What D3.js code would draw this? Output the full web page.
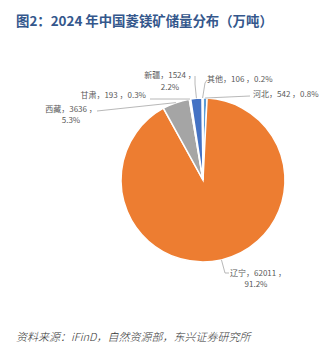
<!DOCTYPE html>
<html><head><meta charset="utf-8">
<script src="https://cdn.jsdelivr.net/npm/d3@7"></script>
<style>
html,body{margin:0;padding:0;background:#fff;}
svg{display:block;}
</style></head>
<body>
<script>
const categories = ["河北","辽宁","西藏","甘肃","新疆","其他"];
const values = [542, 62011, 3636, 193, 1524, 106];
const colors = ["#5B9BD5","#ED7D31","#A5A5A5","#FFC000","#4472C4","#70AD47"];
const titleText = "图2：2024 年中国菱镁矿储量分布（万吨）";
const sourceText = "资料来源：iFinD，自然资源部，东兴证券研究所";

const W = 332, H = 353;
const cx = 203, cy = 180, R = 82;

const svg = d3.select("body").append("svg").attr("width", W).attr("height", H);

svg.append("text").attr("x", 16).attr("y", 26)
  .attr("font-family", "'Noto Sans CJK SC', 'Noto Sans', sans-serif")
  .attr("font-size", 13.4).attr("font-weight", "bold").attr("fill", "#34578C")
  .text(titleText);

svg.append("text").attr("x", 16).attr("y", 341)
  .attr("font-family", "'Noto Sans CJK SC', 'Liberation Sans', sans-serif")
  .attr("font-size", 11).attr("font-style", "italic").attr("font-weight", 300).attr("fill", "#333")
  .text(sourceText);

const data = categories.map((c, i) => ({cat: c, value: values[i], color: colors[i]}));
const total = d3.sum(values);

const pie = d3.pie().value(d => d.value).sort(null);
const arcs = pie(data);
const arc = d3.arc().innerRadius(0).outerRadius(R);

const g = svg.append("g").attr("transform", `translate(${cx},${cy})`);
g.selectAll("path").data(arcs).join("path")
  .attr("d", arc).attr("fill", d => d.data.color)
  .attr("stroke", "#fff").attr("stroke-width", 1.5);

// label layout (annotation positions)
const labelLayout = {
  "西藏": {lines: [{x: 71, y: 112, a: "middle", t: 0}, {x: 71, y: 123, a: "middle", t: 1}], path: [[97, 111]]},
  "甘肃": {lines: [{x: 146, y: 98, a: "end", t: 2}], path: [[150, 99]]},
  "新疆": {lines: [{x: 170, y: 78, a: "middle", t: 0}, {x: 170, y: 90, a: "middle", t: 1}], path: [[195, 84], [195, 76]]},
  "其他": {lines: [{x: 207, y: 82, a: "start", t: 2}], path: [[205, 83], [207, 80]]},
  "河北": {lines: [{x: 253, y: 97, a: "start", t: 2}], path: [[250, 96]]},
  "辽宁": {lines: [{x: 230, y: 276, a: "start", t: 0}, {x: 256, y: 287, a: "middle", t: 1}], path: [[225, 273], [229, 273]]}
};

const lg = svg.append("g");
arcs.forEach(d => {
  const L = labelLayout[d.data.cat];
  const pct = (d.data.value / total * 100).toFixed(1) + "%";
  const first = `${d.data.cat}，${d.data.value} ，`;
  const full = `${d.data.cat}，${d.data.value} ，${pct}`;
  const mid = (d.startAngle + d.endAngle) / 2;
  const p0 = [cx + Math.sin(mid) * R, cy - Math.cos(mid) * R];
  const pts = [p0].concat(L.path);
  lg.append("path").attr("d", d3.line()(pts))
    .attr("fill", "none").attr("stroke", "#A6A6A6").attr("stroke-width", 0.8);
  L.lines.forEach(ln => {
    const txt = ln.t === 0 ? first : ln.t === 1 ? pct : full;
    lg.append("text").attr("x", ln.x).attr("y", ln.y).attr("text-anchor", ln.a)
      .attr("font-family", "'Noto Sans CJK SC', 'Liberation Sans', sans-serif")
      .attr("font-size", 8).attr("fill", "#595959").text(txt);
  });
});
</script>
</body></html>
